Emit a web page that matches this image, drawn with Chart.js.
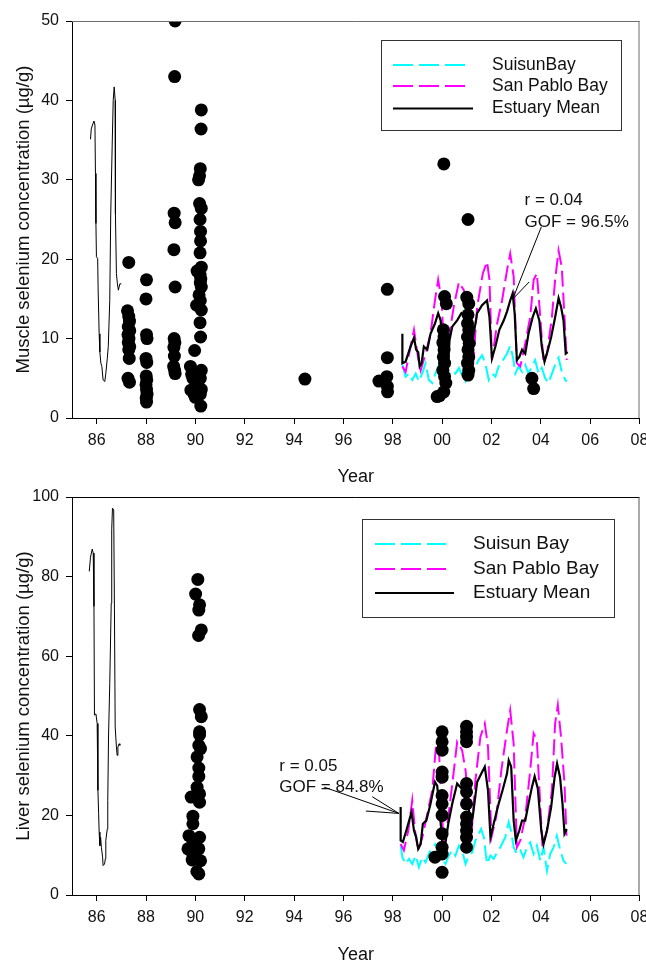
<!DOCTYPE html>
<html lang="en">
<head>
<meta charset="UTF-8">
<title>Selenium concentration by year</title>
<script src="https://cdn.jsdelivr.net/npm/chart.js"></script>
<style>
  html, body { margin: 0; padding: 0; background: #fff; overflow: hidden; }
  canvas { display: block; }
</style>
</head>
<body>
<canvas id="muscleChart" width="646" height="488"></canvas>
<canvas id="liverChart" width="646" height="478"></canvas>
<script>
// ---- shared x axis (two-digit years, 1985..2008) ----
const xTickValues = [86, 88, 90, 92, 94, 96, 98, 100, 102, 104, 106, 108];
const xTickLabels = ['86', '88', '90', '92', '94', '96', '98', '00', '02', '04', '06', '08'];

// ---- muscle ----
const muscleObsYear = [
  87.30, 87.25, 87.30, 87.33, 87.28, 87.34, 87.27, 87.31, 87.28, 87.34, 87.30, 87.32, 87.27, 87.33,
  88.02, 88.00, 88.02, 88.04, 88.00, 88.03, 88.01, 88.03, 88.00, 88.02, 88.04, 88.01, 88.02,
  89.18, 89.16, 89.14, 89.18, 89.13, 89.18, 89.14, 89.17, 89.13, 89.15, 89.12, 89.16, 89.18,
  90.24, 90.23, 90.20, 90.17, 90.13, 90.17, 90.24, 90.19, 90.21, 90.21, 90.19, 90.24, 90.07, 90.19,
  90.22, 90.20, 90.24, 90.15, 90.20, 90.05, 90.24, 90.19, 90.21, 89.97, 89.80, 89.85, 89.90, 90.10,
  89.82, 89.95, 90.00, 90.24, 90.20, 90.24, 90.20, 90.22,
  94.44,
  97.44, 97.78, 97.78, 97.76, 97.78, 97.79,
  100.07, 100.10, 100.17, 100.05, 100.08, 100.03, 100.08, 100.05, 100.10, 100.03, 100.10, 100.15, 99.80, 99.90, 100.07,
  101.05, 101.00, 101.08, 101.05, 101.03, 101.08, 101.03, 101.10, 101.05, 101.08, 101.03, 101.08, 101.05,
  103.64, 103.71
];
const muscleObsSe = [
  19.6, 13.5, 12.8, 12.2, 11.5, 11.0, 10.5, 10.0, 9.5, 9.0, 8.6, 7.5, 5.0, 4.5,
  17.4, 15.0, 10.5, 10.0, 7.5, 7.0, 5.3, 4.8, 4.2, 3.6, 3.0, 2.5, 2.0,
  50.0, 43.0, 25.8, 24.6, 21.2, 16.5, 10.0, 9.5, 8.9, 7.8, 6.5, 6.0, 5.6,
  38.8, 36.4, 31.4, 30.5, 30.0, 27.0, 26.4, 25.0, 23.5, 22.3, 20.8, 19.0, 18.5, 18.0,
  17.5, 17.0, 16.5, 15.5, 14.8, 14.2, 13.6, 12.0, 10.2, 8.5, 6.5, 5.5, 5.0, 4.5,
  3.5, 3.0, 2.6, 6.0, 5.0, 3.6, 3.0, 1.5,
  4.9,
  4.65, 16.2, 7.6, 5.2, 4.0, 3.3,
  32.0, 15.3, 14.4, 11.1, 10.2, 9.5, 8.6, 7.7, 6.9, 6.0, 5.2, 4.4, 2.7, 2.8, 3.3,
  25.0, 15.2, 14.4, 13.0, 11.9, 11.1, 10.2, 9.4, 8.6, 7.7, 6.9, 6.0, 5.4,
  5.0, 3.7
];

const muscleEarlyYear = [85.75, 85.78, 85.83, 85.89, 85.93, 85.95, 85.97, 85.99, 86.04, 86.06, 86.10, 86.13, 86.17,
  86.21, 86.26, 86.33, 86.37, 86.43, 86.47, 86.53, 86.57, 86.63, 86.67, 86.71, 86.75, 86.76, 86.80, 86.84,
  86.88, 86.94, 87.00];
const muscleEarlyMean = [35.1, 36.4, 36.9, 37.4, 36.9, 30.8, 24.5, 20.3, 20.1, 16.1, 10.6, 8.3, 6.9,
  6.5, 4.8, 4.6, 5.6, 7.5, 9.0, 14.8, 25.7, 34.5, 40.0, 41.7, 40.0, 25.7, 18.2, 16.9,
  16.1, 16.9, 16.9];

const muscleMeanYear = [98.39, 98.39, 98.52, 98.72, 98.86, 98.95, 99.03, 99.09, 99.17, 99.26, 99.40, 99.53, 99.71,
  99.84, 99.94, 100.03, 100.14, 100.25, 100.30, 100.41, 100.61, 100.78, 100.95, 101.08, 101.19, 101.28,
  101.42, 101.62, 101.82, 101.92, 102.02, 102.16, 102.32, 102.50, 102.63, 102.76, 102.86, 102.94, 103.03,
  103.13, 103.24, 103.37, 103.50, 103.67, 103.80, 103.94, 104.04, 104.15, 104.29, 104.42, 104.58, 104.72,
  104.82, 104.92, 105.01, 105.09];
const muscleMean = [10.6, 6.9, 7.1, 9.0, 10.1, 8.6, 8.3, 6.5, 6.9, 9.0, 8.6, 10.6, 11.9,
  13.2, 12.3, 9.0, 5.6, 6.9, 9.8, 11.5, 12.3, 13.2, 12.7, 12.3, 9.0, 10.6,
  13.2, 14.2, 14.8, 12.7, 7.5, 9.0, 11.1, 12.3, 13.4, 14.8, 15.7, 13.2, 7.3,
  7.7, 8.6, 8.1, 10.6, 12.7, 13.8, 12.3, 9.0, 7.1, 8.6, 10.2, 12.7, 15.1,
  14.0, 12.3, 8.1, 8.3];

const musclePabloYear = [98.39, 98.52, 98.72, 98.86, 99.03, 99.13, 99.33, 99.53, 99.71, 99.84, 99.98, 100.07,
  100.17, 100.30, 100.47, 100.68, 100.88, 101.01, 101.15, 101.24, 101.42, 101.65, 101.82, 101.92, 102.02,
  102.23, 102.43, 102.63, 102.76, 102.90, 103.03, 103.17, 103.37, 103.57, 103.71, 103.84, 103.98, 104.11,
  104.25, 104.45, 104.58, 104.72, 104.85, 104.96, 105.05];
const musclePablo = [6.5, 5.8, 9.0, 11.1, 7.5, 6.0, 8.1, 10.6, 14.8, 17.4, 14.8, 9.0,
  5.6, 10.6, 14.0, 17.1, 16.1, 14.0, 9.0, 6.0, 14.0, 18.2, 19.7, 17.4, 7.3,
  11.9, 14.8, 18.6, 20.7, 17.8, 6.9, 6.5, 9.4, 12.7, 17.4, 18.2, 12.7, 6.9,
  8.1, 12.7, 17.4, 21.1, 19.0, 12.7, 7.3];

const muscleSuisunYear = [98.39, 98.52, 98.66, 98.79, 98.93, 99.06, 99.19, 99.33, 99.46, 99.60, 99.73, 99.87,
  100.00, 100.14, 100.27, 100.41, 100.54, 100.68, 100.81, 100.95, 101.08, 101.22, 101.35, 101.48, 101.62,
  101.75, 101.89, 102.02, 102.16, 102.29, 102.43, 102.63, 102.76, 102.87, 102.97, 103.10, 103.24, 103.37,
  103.50, 103.64, 103.77, 103.91, 104.04, 104.18, 104.31, 104.45, 104.58, 104.72, 104.85, 104.99, 105.05];
const muscleSuisun = [6.7, 5.2, 5.6, 4.8, 5.6, 4.6, 5.6, 6.9, 4.8, 4.4, 5.6, 6.7,
  5.2, 4.8, 5.4, 6.0, 5.6, 6.3, 5.4, 4.6, 5.2, 5.6, 6.5, 7.3, 7.9,
  6.9, 4.8, 5.6, 5.2, 6.5, 7.1, 8.1, 9.1, 7.7, 5.6, 6.5, 5.8, 6.7,
  5.6, 6.5, 7.3, 5.6, 6.3, 5.0, 4.4, 5.6, 6.7, 7.6, 5.8, 4.8, 4.6];

// ---- liver ----
const liverObsYear = [
  90.10, 90.01, 90.17, 90.14, 90.24, 90.13, 90.17, 90.24, 90.17, 90.17, 90.14, 90.21, 90.07, 90.14,
  90.14, 90.07, 90.17, 89.83, 90.17, 89.90, 89.90, 89.74, 90.17, 89.90, 89.70, 90.14, 89.90, 89.87,
  90.21, 90.06, 90.14,
  100.00, 100.00, 100.00, 100.00, 100.00, 100.00, 100.00, 100.00, 100.00, 100.00, 100.00, 100.00, 99.71,
  100.99, 100.99, 100.99, 100.99, 100.99, 100.99, 100.99, 100.99, 100.99, 100.99, 100.99, 100.99
];
const liverObsSe = [
  79.3, 75.6, 72.9, 71.6, 66.6, 65.2, 46.6, 44.8, 41.0, 40.2, 37.6, 36.8, 34.7, 31.9,
  29.8, 27.1, 25.4, 24.6, 23.3, 19.8, 17.9, 14.9, 14.5, 13.7, 11.6, 11.6, 9.9, 8.8,
  8.6, 5.9, 5.3,
  41.0, 38.5, 36.4, 30.9, 29.6, 25.0, 22.9, 20.0, 15.4, 12.0, 10.3, 5.7, 9.5,
  42.4, 41.0, 39.7, 38.5, 28.0, 25.9, 22.9, 19.6, 17.9, 16.2, 14.5, 12.0
];

const liverEarlyYear = [85.70, 85.75, 85.82, 85.86, 85.89, 85.91, 85.97, 86.02, 86.05, 86.08, 86.10, 86.13,
  86.16, 86.19, 86.24, 86.26, 86.32, 86.35, 86.37, 86.43, 86.45, 86.48, 86.53, 86.59, 86.61, 86.64,
  86.69, 86.72, 86.75, 86.80, 86.83, 86.86, 86.91, 86.94];
const liverEarlyMean = [81.3, 84.9, 86.9, 85.9, 72.5, 45.2, 45.5, 43.1, 26.3, 20.4, 15.8, 12.4,
  14.5, 12.0, 9.5, 7.4, 7.8, 9.1, 13.7, 16.6, 23.8, 39.7, 53.1, 73.3, 91.8, 97.2,
  96.8, 71.6, 42.2, 37.2, 35.1, 37.2, 38.0, 37.6];

const liverMeanYear = [98.32, 98.32, 98.41, 98.55, 98.76, 98.86, 98.95, 99.03, 99.13, 99.22, 99.36, 99.53,
  99.71, 99.80, 99.90, 100.00, 100.11, 100.25, 100.41, 100.61, 100.74, 100.88, 101.01, 101.15, 101.24,
  101.42, 101.59, 101.73, 101.86, 101.96, 102.09, 102.29, 102.45, 102.63, 102.70, 102.80, 102.90, 102.99,
  103.13, 103.24, 103.37, 103.50, 103.64, 103.75, 103.88, 104.02, 104.11, 104.25, 104.42, 104.56, 104.66,
  104.78, 104.88, 104.96, 105.05];
const liverMean = [22.1, 13.7, 13.3, 16.2, 20.8, 16.2, 14.5, 11.6, 12.8, 17.9, 18.7, 22.9,
  28.4, 27.5, 21.2, 13.7, 12.0, 17.9, 22.9, 28.0, 27.1, 26.3, 25.9, 17.9, 19.6,
  28.4, 30.5, 32.2, 26.3, 14.5, 17.9, 22.9, 26.3, 30.5, 33.8, 32.2, 18.7, 13.7,
  16.2, 18.7, 18.7, 22.9, 27.1, 29.8, 26.7, 16.2, 12.8, 16.2, 22.1, 29.6, 33.0,
  29.6, 22.9, 15.4, 16.6];

const liverPabloYear = [98.32, 98.45, 98.63, 98.79, 98.90, 99.03, 99.20, 99.40, 99.60, 99.76, 99.87, 99.98,
  100.07, 100.25, 100.43, 100.61, 100.81, 100.95, 101.08, 101.19, 101.35, 101.55, 101.73, 101.86, 102.00,
  102.19, 102.40, 102.63, 102.76, 102.90, 103.03, 103.17, 103.37, 103.57, 103.71, 103.84, 103.94, 104.07,
  104.25, 104.45, 104.58, 104.69, 104.82, 104.96, 105.04];
const liverPablo = [12.8, 11.2, 16.2, 23.8, 16.2, 11.2, 14.5, 20.4, 26.3, 38.0, 36.4, 22.9,
  11.2, 19.6, 28.8, 38.5, 36.4, 31.3, 22.9, 15.4, 28.8, 39.7, 43.1, 37.2, 14.5,
  19.6, 31.3, 41.4, 46.4, 38.0, 12.0, 13.7, 19.6, 31.3, 40.6, 38.9, 27.1, 12.0,
  16.2, 26.3, 43.1, 47.7, 39.7, 28.0, 14.9];

const liverSuisunYear = [98.32, 98.39, 98.52, 98.66, 98.79, 98.93, 99.06, 99.20, 99.33, 99.46, 99.60, 99.73,
  99.87, 100.00, 100.14, 100.27, 100.41, 100.54, 100.68, 100.81, 100.95, 101.08, 101.22, 101.35, 101.49,
  101.58, 101.69, 101.82, 101.96, 102.09, 102.23, 102.36, 102.56, 102.70, 102.79, 102.90, 103.03, 103.17,
  103.30, 103.44, 103.57, 103.71, 103.84, 103.98, 104.11, 104.25, 104.38, 104.52, 104.65, 104.79, 104.92,
  105.03];
const liverSuisun = [12.4, 9.5, 7.8, 9.1, 7.8, 9.9, 7.0, 9.5, 8.2, 10.3, 12.0, 12.8,
  10.3, 9.1, 7.8, 9.9, 11.2, 9.9, 12.4, 11.2, 7.8, 9.9, 10.7, 13.7, 15.4,
  16.6, 14.5, 7.8, 9.9, 9.1, 10.7, 12.0, 14.5, 18.3, 16.2, 12.0, 10.3, 11.2,
  9.5, 12.0, 13.2, 10.3, 12.4, 8.6, 12.0, 6.1, 10.3, 12.0, 14.9, 11.2, 8.6,
  7.8];

// ---- helpers ----
const FONT = '"Liberation Sans", Arial, sans-serif';
const CYAN = '#00FFFF';
const MAGENTA = '#FF00FF';
const pts = (xs, ys) => xs.map((x, i) => ({ x: x, y: ys[i] }));

// top and right edges of the plot frame
const framePlugin = {
  id: 'frame',
  afterDraw(chart, args, o) {
    const { ctx, chartArea: a } = chart;
    ctx.save();
    ctx.lineWidth = 1;
    ctx.strokeStyle = o.topColor;
    ctx.beginPath();
    ctx.moveTo(a.left, a.top + 0.5);
    ctx.lineTo(a.right, a.top + 0.5);
    ctx.stroke();
    ctx.strokeStyle = o.rightColor;
    ctx.beginPath();
    ctx.moveTo(a.right - 0.5, a.top);
    ctx.lineTo(a.right - 0.5, a.bottom);
    ctx.stroke();
    ctx.restore();
  }
};

// boxed legend inside the plot
const keyPlugin = {
  id: 'keyBox',
  afterDraw(chart, args, o) {
    const ctx = chart.ctx;
    ctx.save();
    ctx.strokeStyle = '#333';
    ctx.lineWidth = 1;
    ctx.strokeRect(o.x + 0.5, o.y + 0.5, o.w, o.h);
    ctx.font = o.fontSize + 'px ' + FONT;
    ctx.textBaseline = 'middle';
    ctx.fillStyle = '#111';
    o.rows.forEach(r => {
      ctx.strokeStyle = r.color;
      ctx.lineWidth = r.width;
      ctx.setLineDash(r.dash);
      ctx.beginPath();
      ctx.moveTo(o.lineX0, r.y);
      ctx.lineTo(r.dash.length ? o.lineX1 : o.lineX1 + 8, r.y);
      ctx.stroke();
      ctx.setLineDash([]);
      ctx.fillText(r.label, o.textX, r.y);
    });
    ctx.restore();
  }
};

// fit statistics with leader lines, anchored in data units
const notePlugin = {
  id: 'note',
  afterDatasetsDraw(chart, args, o) {
    const { ctx, scales: { x, y } } = chart;
    ctx.save();
    ctx.font = '17px ' + FONT;
    ctx.fillStyle = '#111';
    ctx.textBaseline = 'middle';
    o.lines.forEach((t, i) => ctx.fillText(t, x.getPixelForValue(o.textAt[0]), y.getPixelForValue(o.textAt[1 + i])));
    ctx.strokeStyle = '#000';
    ctx.lineWidth = 1;
    const ex = x.getPixelForValue(o.tip[0]), ey = y.getPixelForValue(o.tip[1]);
    o.from.forEach(p => {
      ctx.beginPath();
      ctx.moveTo(x.getPixelForValue(p[0]), y.getPixelForValue(p[1]));
      ctx.lineTo(ex, ey);
      ctx.stroke();
    });
    ctx.restore();
  }
};

function makeChart(id, cfg) {
  const datasets = [
    { label: 'Observed', data: pts(cfg.obsYear, cfg.obsSe), backgroundColor: '#000', borderWidth: 0,
      pointRadius: 6.5, pointHoverRadius: 6.5 },
    { label: 'Estuary Mean', data: pts(cfg.meanYear, cfg.mean), showLine: true, borderColor: '#000',
      borderWidth: 2.2, pointRadius: 0, tension: 0 },
    { label: 'Early mean', data: pts(cfg.earlyYear, cfg.early), showLine: true, borderColor: '#000',
      borderWidth: 1, pointRadius: 0, tension: 0 },
    { label: 'San Pablo Bay', data: pts(cfg.pabloYear, cfg.pablo), showLine: true, borderColor: MAGENTA,
      borderWidth: 2, borderDash: [16, 6], pointRadius: 0, tension: 0 },
    { label: 'Suisun Bay', data: pts(cfg.suisunYear, cfg.suisun), showLine: true, borderColor: CYAN,
      borderWidth: 2, borderDash: [16, 6], pointRadius: 0, tension: 0 }
  ];

  return new Chart(document.getElementById(id), {
    type: 'scatter',
    data: { datasets },
    options: {
      responsive: false,
      animation: false,
      events: [],
      layout: { padding: { left: 0, right: 5, top: cfg.padTop, bottom: 0 } },
      scales: {
        x: {
          type: 'linear',
          min: 85,
          max: 108,
          afterBuildTicks: s => { s.ticks = xTickValues.map(v => ({ value: v })); },
          afterFit: s => { s.height = cfg.xHeight; s.paddingLeft = 0; s.paddingRight = 0; },
          ticks: {
            callback: v => xTickLabels[xTickValues.indexOf(v)],
            font: { family: FONT, size: 16 },
            color: '#111',
            padding: 7,
            maxRotation: 0,
            autoSkip: false
          },
          grid: { drawOnChartArea: false, drawTicks: true, tickLength: 6, tickColor: '#000' },
          border: { color: '#000', width: 1 },
          title: { display: true, text: 'Year', color: '#111', font: { family: FONT, size: 18 },
            padding: { top: 0, bottom: 0 } }
        },
        y: {
          min: 0,
          max: cfg.yMax,
          afterFit: s => { s.width = 72; s.paddingTop = 0; s.paddingBottom = 0; },
          ticks: {
            stepSize: cfg.yStep,
            font: { family: FONT, size: 16 },
            color: '#111',
            padding: 7
          },
          grid: { drawOnChartArea: false, drawTicks: true, tickLength: 6, tickColor: '#000' },
          border: { color: '#000', width: 1 },
          title: { display: true, text: cfg.yTitle, color: '#111', font: { family: FONT, size: 18.5 },
            padding: { top: 12.5, bottom: 0 } }
        }
      },
      plugins: {
        legend: { display: false },
        tooltip: { enabled: false },
        frame: cfg.frame,
        keyBox: cfg.key,
        note: cfg.note
      }
    },
    plugins: [framePlugin, keyPlugin, notePlugin]
  });
}

makeChart('muscleChart', {
  obsYear: muscleObsYear, obsSe: muscleObsSe,
  earlyYear: muscleEarlyYear, early: muscleEarlyMean,
  meanYear: muscleMeanYear, mean: muscleMean,
  pabloYear: musclePabloYear, pablo: musclePablo,
  suisunYear: muscleSuisunYear, suisun: muscleSuisun,
  yMax: 50, yStep: 10, padTop: 21, xHeight: 70,
  yTitle: 'Muscle selenium concentration (\u00b5g/g)',
  frame: { topColor: '#6e6e6e', rightColor: '#6e6e6e' },
  key: {
    x: 381, y: 40, w: 240, h: 90, lineX0: 393, lineX1: 465, textX: 492, fontSize: 17.5,
    rows: [
      { label: 'SuisunBay', color: CYAN, width: 2, dash: [20, 6], y: 65 },
      { label: 'San Pablo Bay', color: MAGENTA, width: 2, dash: [20, 6], y: 86 },
      { label: 'Estuary Mean', color: '#000', width: 2, dash: [], y: 108.5 }
    ]
  },
  note: {
    lines: ['r = 0.04', 'GOF = 96.5%'],
    textAt: [103.34, 27.4, 24.7],
    tip: [102.86, 14.97],
    from: [[104.02, 24.06], [103.53, 17.14]]
  }
});

makeChart('liverChart', {
  obsYear: liverObsYear, obsSe: liverObsSe,
  earlyYear: liverEarlyYear, early: liverEarlyMean,
  meanYear: liverMeanYear, mean: liverMean,
  pabloYear: liverPabloYear, pablo: liverPablo,
  suisunYear: liverSuisunYear, suisun: liverSuisun,
  yMax: 100, yStep: 20, padTop: 9, xHeight: 71,
  yTitle: 'Liver selenium concentration (\u00b5g/g)',
  frame: { topColor: '#000', rightColor: '#555' },
  key: {
    x: 362, y: 31, w: 252, h: 98, lineX0: 375, lineX1: 446, textX: 473, fontSize: 19,
    rows: [
      { label: 'Suisun Bay', color: CYAN, width: 2, dash: [20, 6], y: 56 },
      { label: 'San Pablo Bay', color: MAGENTA, width: 2, dash: [20, 6], y: 81 },
      { label: 'Estuary Mean', color: '#000', width: 2, dash: [], y: 105 }
    ]
  },
  note: {
    lines: ['r = 0.05', 'GOF = 84.8%'],
    textAt: [93.40, 32.3, 27.1],
    tip: [98.25, 20.5],
    from: [[95.22, 27.1], [97.17, 24.7], [96.91, 21.1]]
  }
});
</script>
</body>
</html>
